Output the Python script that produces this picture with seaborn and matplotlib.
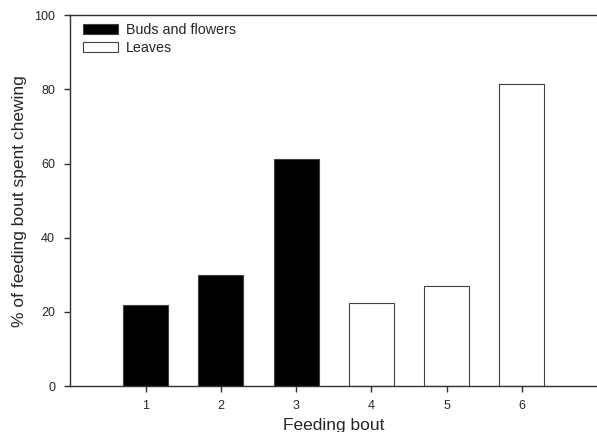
import matplotlib
matplotlib.use("Agg")
import matplotlib.pyplot as plt
import pandas as pd
import seaborn as sns

bouts = [1, 2, 3, 4, 5, 6]
chewing_pct = [21.9, 29.9, 61.2, 22.5, 26.9, 81.5]
food_type = ["Buds and flowers", "Buds and flowers", "Buds and flowers",
             "Leaves", "Leaves", "Leaves"]

df = pd.DataFrame({"bout": bouts, "pct": chewing_pct, "food": food_type})

sns.set_style("white")
plt.rcParams["font.family"] = ["Liberation Sans", "DejaVu Sans"]

fig = plt.figure(figsize=(5.97, 4.32), dpi=100)
ax = fig.add_axes([0.118, 0.106, 0.882, 0.859])

sns.barplot(data=df, x="bout", y="pct", hue="food", native_scale=True,
            dodge=False, width=0.6,
            palette={"Buds and flowers": "black", "Leaves": "white"},
            edgecolor="#404040", linewidth=0.8, ax=ax)

ax.set_xlim(0.0, 7.0)
ax.set_ylim(0, 100)
ax.set_xticks(bouts)
ax.set_yticks([0, 20, 40, 60, 80, 100])

for side in ["left", "bottom", "top"]:
    ax.spines[side].set_color("#303030")
    ax.spines[side].set_linewidth(1.0)
ax.spines["right"].set_visible(False)

ax.tick_params(axis="both", direction="out", length=4, width=1,
               color="#303030", labelsize=9, left=True, bottom=True)
ax.tick_params(axis="y", pad=7)
ax.tick_params(axis="x", pad=6)

ax.set_xlabel("Feeding bout", fontsize=12.5, labelpad=4)
ax.set_ylabel("% of feeding bout spent chewing", fontsize=12.5, labelpad=5)

ax.legend(loc="upper left", frameon=False, fontsize=10.3,
          handlelength=2.4, handleheight=0.75, borderaxespad=0.5,
          labelspacing=0.3, handletextpad=0.6,
          bbox_to_anchor=(0.0, 1.014))

plt.savefig("out.png", dpi=100)
plt.close()
